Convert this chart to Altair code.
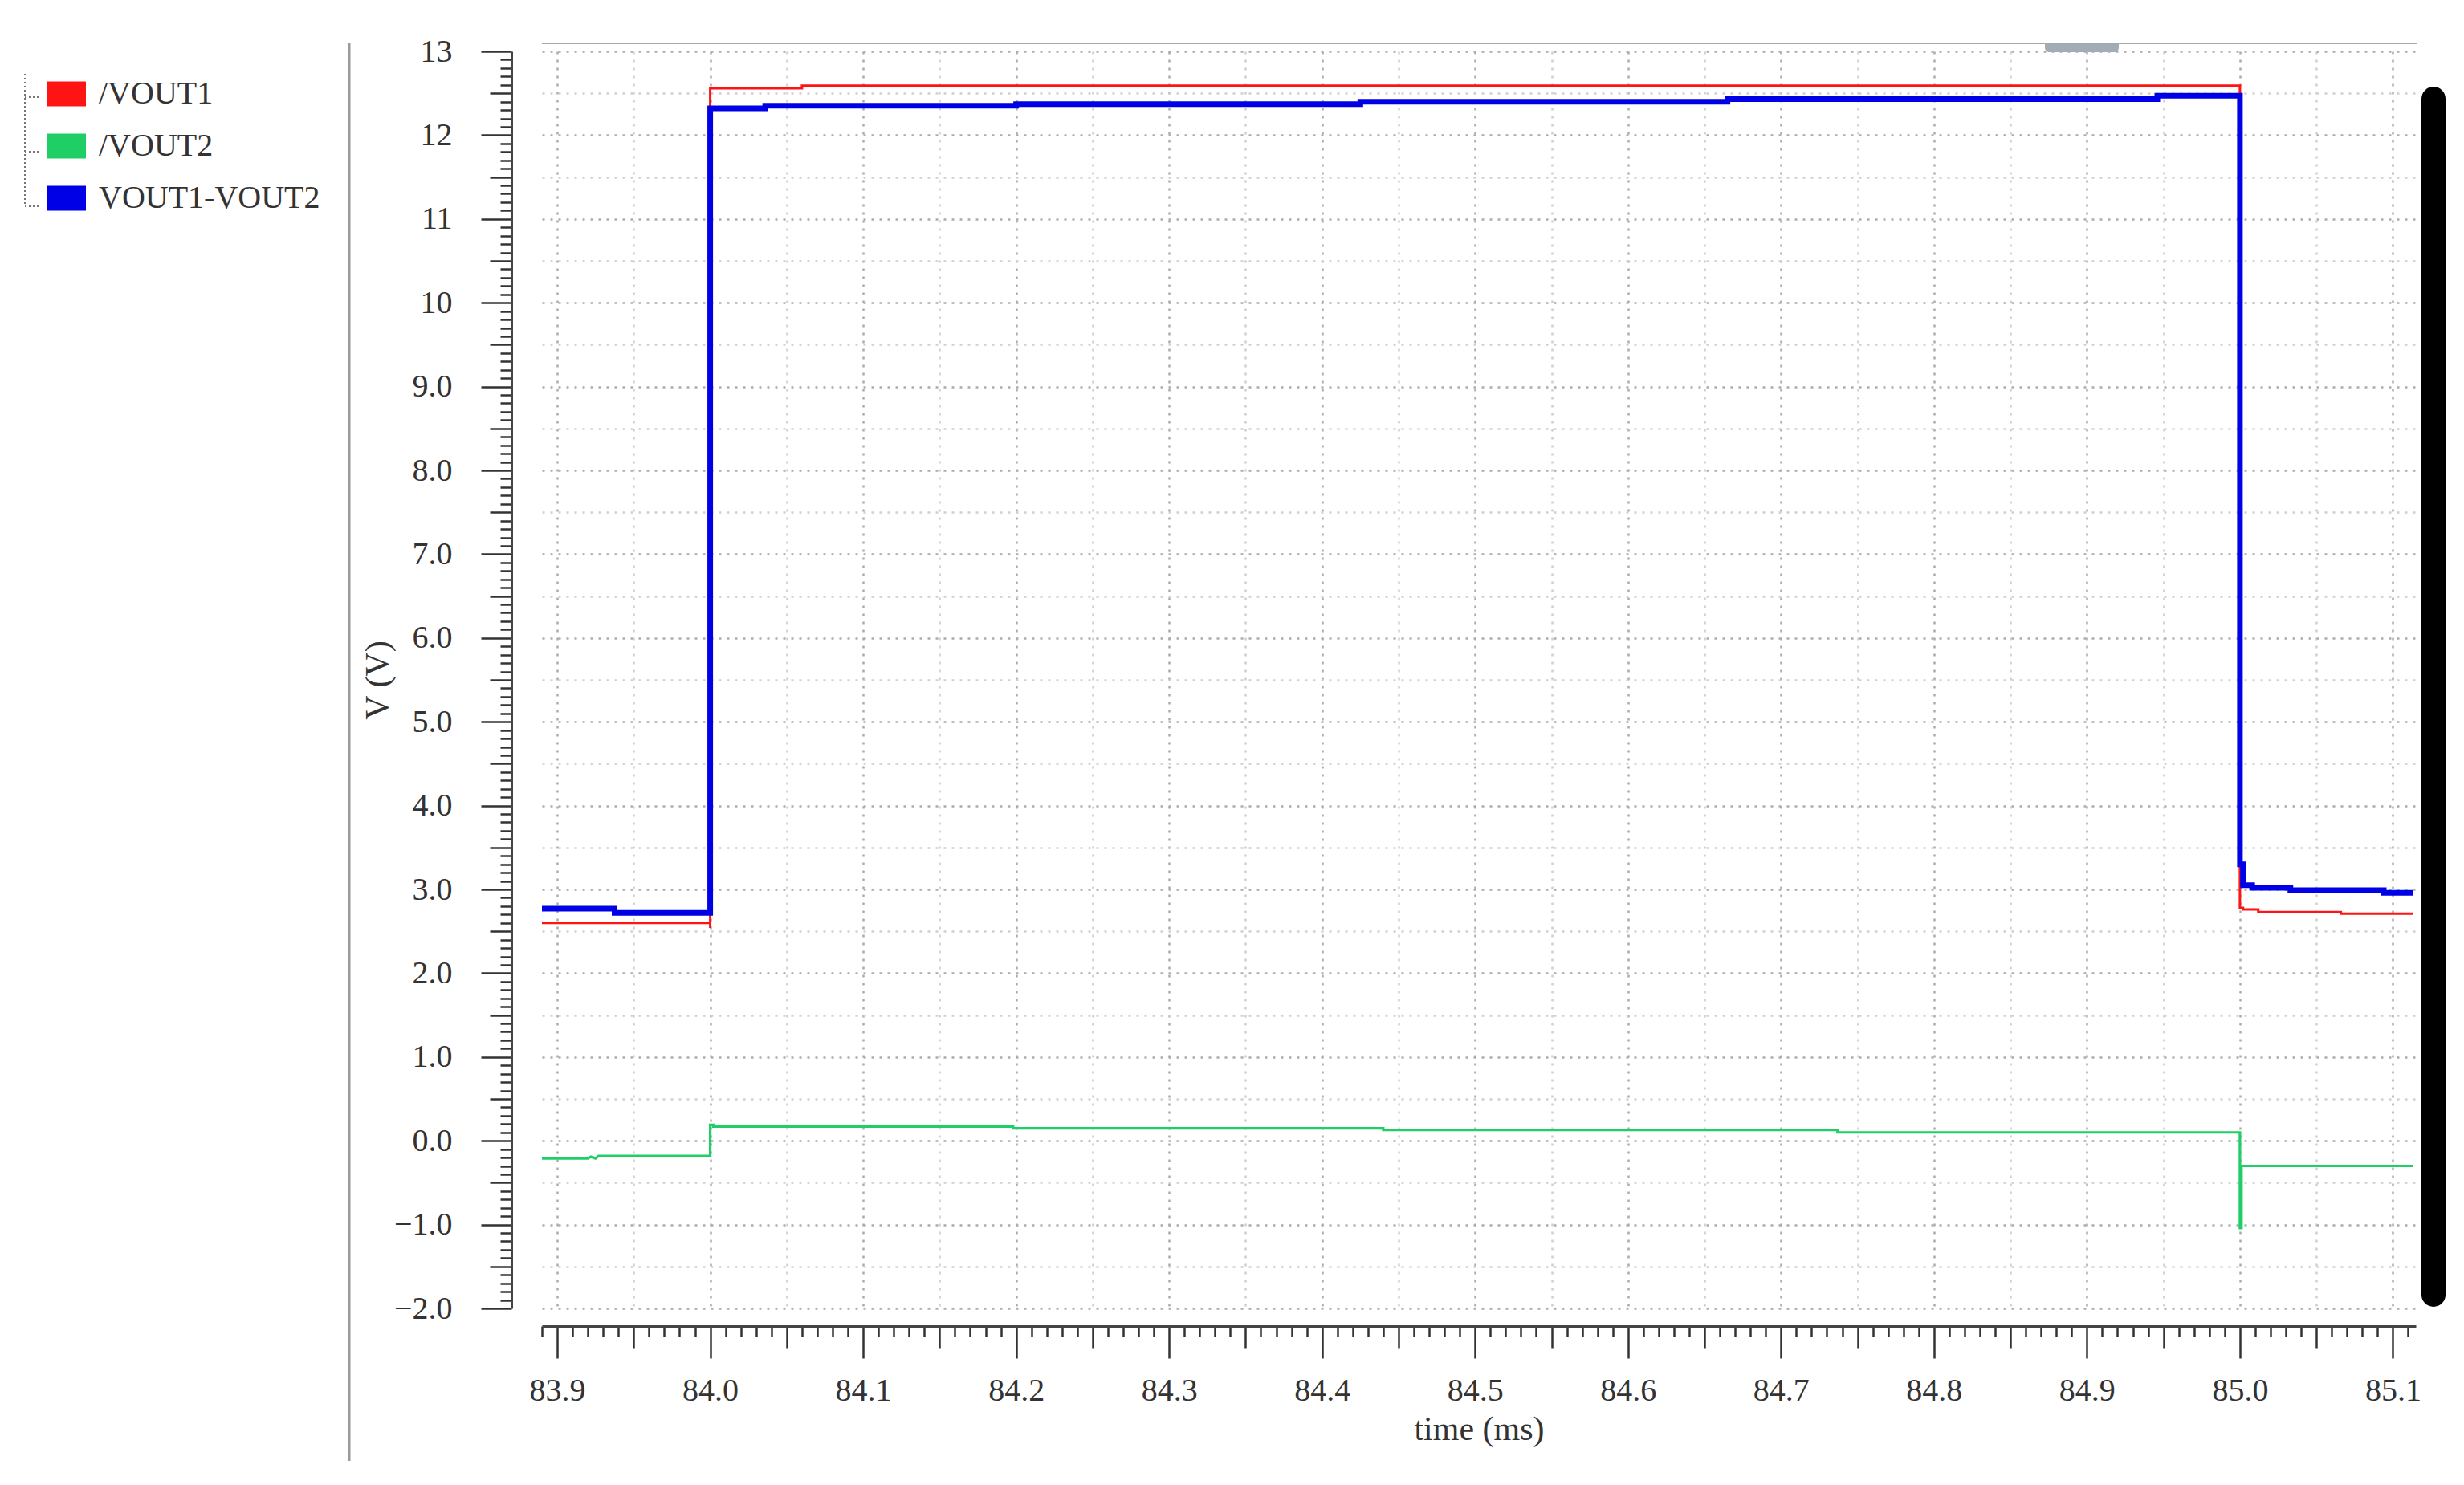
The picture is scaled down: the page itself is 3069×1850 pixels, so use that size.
import altair as alt
import pandas as pd

# ---------------- data ----------------
series_names = ["/VOUT1", "/VOUT2", "VOUT1-VOUT2"]
series_colors = ["#ff1414", "#1fcf66", "#0000e6"]
series_widths = [3, 3.2, 7]

t_vout1 = [83.890, 84.000, 84.000, 84.000, 84.060, 84.060, 85.000, 85.000,
           85.002, 85.002, 85.012, 85.012, 85.066, 85.066, 85.113]
v_vout1 = [2.60, 2.60, 2.54, 12.56, 12.56, 12.59, 12.59, 2.78,
           2.78, 2.76, 2.76, 2.73, 2.73, 2.71, 2.71]

t_vout2 = [83.890, 83.920, 83.922, 83.925, 83.927, 84.000, 84.000, 84.002,
           84.002, 84.198, 84.198, 84.440, 84.440, 84.737, 84.737, 85.000,
           85.000, 85.001, 85.001, 85.113]
v_vout2 = [-0.21, -0.21, -0.19, -0.21, -0.18, -0.18, 0.19, 0.19,
           0.17, 0.17, 0.15, 0.15, 0.13, 0.13, 0.10, 0.10,
           -1.04, -1.04, -0.30, -0.30]

t_diff = [83.890, 83.9375, 83.9375, 84.000, 84.000, 84.036, 84.036, 84.200,
          84.200, 84.425, 84.425, 84.665, 84.665, 84.946, 84.946, 85.000,
          85.000, 85.002, 85.002, 85.008, 85.008, 85.033, 85.033, 85.094,
          85.094, 85.113]
v_diff = [2.77, 2.77, 2.72, 2.72, 12.32, 12.32, 12.35, 12.35,
          12.37, 12.37, 12.40, 12.40, 12.43, 12.43, 12.47, 12.47,
          3.30, 3.30, 3.05, 3.05, 3.02, 3.02, 2.99, 2.99,
          2.96, 2.96]

x_domain = [83.89, 85.115]
y_domain = [-2.0, 13.0]
x_tick_values = [round(83.89 + 0.01 * i, 2) for i in range(123)]
y_tick_values = [round(-2.0 + 0.1 * i, 1) for i in range(151)]

# ---------------- build table ----------------
rows = []
for name, ts, vs in zip(series_names, [t_vout1, t_vout2, t_diff], [v_vout1, v_vout2, v_diff]):
    for i, (t, v) in enumerate(zip(ts, vs)):
        rows.append({"series": name, "t": t, "v": v, "idx": i})
df = pd.DataFrame(rows)

W, H = 2334, 1566
FONT = "Liberation Serif"
TXT = "#333333"

x_major = "abs(datum.value*10 - round(datum.value*10)) < 1e-6"
x_half = "abs(datum.value*20 - round(datum.value*20)) < 1e-6"
y_major = "abs(datum.value - round(datum.value)) < 1e-6"
y_half = "abs(datum.value*2 - round(datum.value*2)) < 1e-6"

x_axis = alt.Axis(
    values=x_tick_values, title="time (ms)", offset=22,
    labelExpr=f"({x_major}) ? format(datum.value, '.1f') : ''",
    labelFont=FONT, labelFontSize=40, labelColor=TXT, labelPadding=20,
    labelOverlap=False, labelFlush=False, labelBound=False,
    titleFont=FONT, titleFontSize=42, titleFontWeight="normal", titleColor=TXT, titlePadding=8,
    tickSize={"condition": [{"test": x_major, "value": 40}, {"test": x_half, "value": 27}], "value": 13},
    tickColor=TXT, tickWidth=2.5,
    domainColor="#444444", domainWidth=3,
    grid=True, gridDash=[3, 7], gridWidth=2.5,
    gridOpacity={"condition": {"test": x_half, "value": 1}, "value": 0},
    gridColor={"condition": {"test": x_major, "value": "#acacac"}, "value": "#d0d0d0"},
)

y_axis = alt.Axis(
    values=y_tick_values, title="V (V)", offset=38,
    labelExpr=(f"({y_major}) ? (abs(datum.value) >= 10 ? format(datum.value, 'd') "
               f": format(datum.value, '.1f')) : ''"),
    labelFont=FONT, labelFontSize=40, labelColor=TXT, labelPadding=36,
    labelOverlap=False, labelFlush=False, labelBound=False,
    titleFont=FONT, titleFontSize=42, titleFontWeight="normal", titleColor=TXT, titlePadding=-2,
    tickSize={"condition": [{"test": y_major, "value": 38}, {"test": y_half, "value": 27}], "value": 14},
    tickColor=TXT, tickWidth=2.5,
    domainColor="#444444", domainWidth=3,
    grid=True, gridDash=[3, 7], gridWidth=2.5,
    gridOpacity={"condition": {"test": y_half, "value": 1}, "value": 0},
    gridColor={"condition": {"test": y_major, "value": "#acacac"}, "value": "#d0d0d0"},
)

color_scale = alt.Scale(domain=series_names, range=series_colors)
x_enc = alt.X("t:Q", scale=alt.Scale(domain=x_domain, nice=False, zero=False), axis=x_axis)
y_enc = alt.Y("v:Q", scale=alt.Scale(domain=y_domain, nice=False, zero=False), axis=y_axis)

base = alt.Chart(df)

line_layers = []
for name, w in zip(series_names, series_widths):
    line_layers.append(
        base.transform_filter(alt.datum.series == name)
        .mark_line(clip=True, strokeWidth=w, strokeJoin="miter")
        .encode(x=x_enc, y=y_enc,
                color=alt.Color("series:N", scale=color_scale, legend=None),
                order="idx:Q")
    )

legend_layer = base.transform_filter("false").mark_rect().encode(
    color=alt.Color(
        "series:N", scale=color_scale,
        legend=alt.Legend(
            title=None, orient="none", legendX=-616, legendY=29, direction="vertical",
            symbolType="M-1,-0.646L1,-0.646L1,0.646L-1,0.646Z", symbolSize=2304,
            symbolStrokeWidth=0, symbolOpacity=1,
            labelFont=FONT, labelFontSize=40, labelColor=TXT, labelOffset=16,
            labelLimit=500, rowPadding=21, padding=0,
        ),
    )
)

one = alt.Chart(pd.DataFrame({"k": [0]}))

separator = one.mark_rule(color="#9a9a9a", strokeWidth=3).encode(
    x=alt.value(-240), y=alt.value(-11), y2=alt.value(1756))
top_line = one.mark_rule(color="#a8a8a8", strokeWidth=2).encode(
    x=alt.value(0), x2=alt.value(2335), y=alt.value(-10))
thumb = one.mark_rect(color="#a3abb5", cornerRadiusBottomLeft=7, cornerRadiusBottomRight=7).encode(
    x=alt.value(1872), x2=alt.value(1964), y=alt.value(-10), y2=alt.value(1))
scrollbar = one.mark_rule(color="#000000", strokeWidth=30, strokeCap="round").encode(
    x=alt.value(2356), y=alt.value(59), y2=alt.value(1549))
tree_v = one.mark_rule(color="#777777", strokeWidth=2, strokeDash=[2, 3]).encode(
    x=alt.value(-644), y=alt.value(28), y2=alt.value(193))
tree_h = [one.mark_rule(color="#777777", strokeWidth=2, strokeDash=[2, 3]).encode(
    x=alt.value(-644), x2=alt.value(-626), y=alt.value(yy)) for yy in (57, 125, 193)]

chart = alt.layer(
    *line_layers, legend_layer, separator, top_line, thumb, scrollbar, tree_v, *tree_h
).resolve_legend(
    color="independent"
).properties(
    width=W, height=H,
    autosize=alt.AutoSizeParams(type="none"),
    padding={"left": 667, "top": 56, "right": 50, "bottom": 200},
    background="white",
).configure_view(stroke=None)

chart.save("out.html", embed_options={"renderer": "svg", "actions": False})
